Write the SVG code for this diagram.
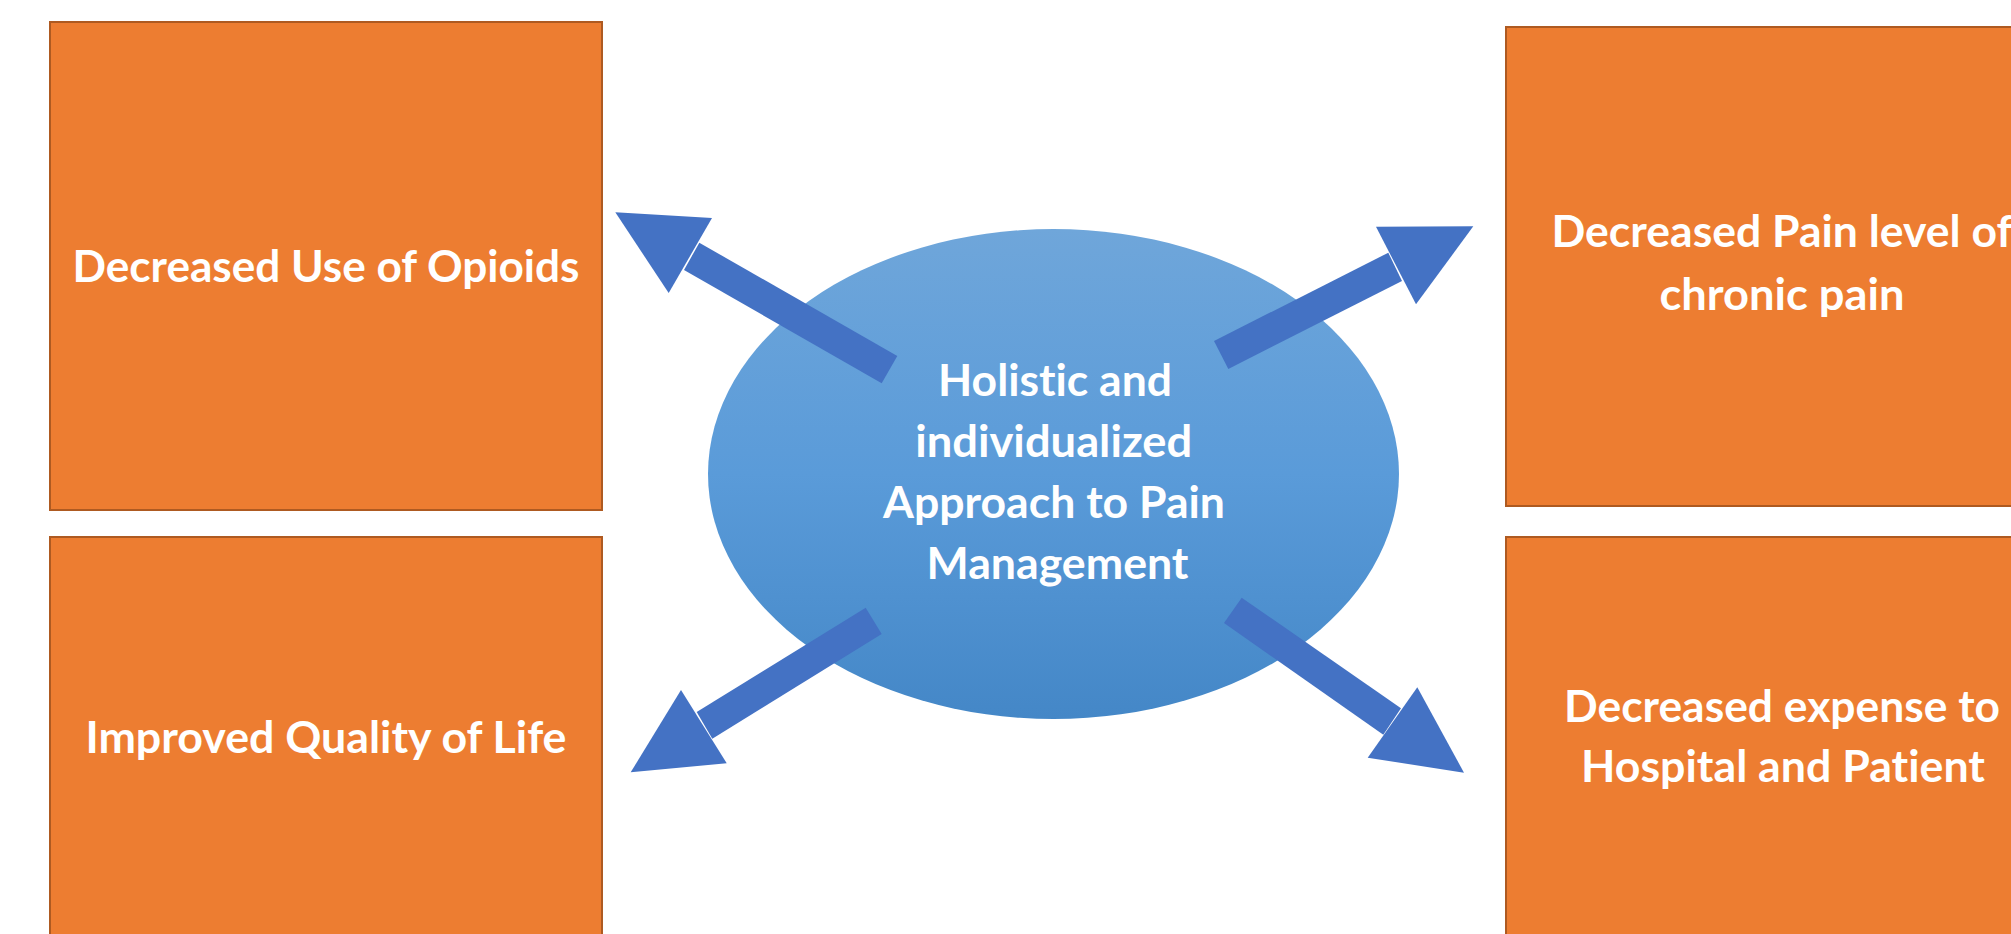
<svg xmlns="http://www.w3.org/2000/svg" width="2011" height="934" viewBox="0 0 2011 934">
  <style>
    .box { fill: #ED7D31; stroke: #AE5A21; stroke-width: 2; }
    .lbl { fill: #FFFFFF; font-family: Lato, "Open Sans", "Liberation Sans", sans-serif; font-weight: 700; font-size: 44px; text-anchor: middle; font-variant-ligatures: none; }
    .arrow { fill: #4472C4; }
  </style>
  <defs>
    <linearGradient id="hubFill" x1="0" y1="0" x2="0" y2="1">
      <stop offset="0" stop-color="#6FA6DA"/>
      <stop offset="0.5" stop-color="#5A9BD9"/>
      <stop offset="1" stop-color="#4487C7"/>
    </linearGradient>
  </defs>

  <rect width="2011" height="934" fill="#FFFFFF"/>

  <!-- outcome boxes -->
  <g id="opioids">
    <rect class="box" x="50" y="22" width="552" height="488"/>
    <text class="lbl" x="326" y="282" textLength="507" lengthAdjust="spacingAndGlyphs">Decreased Use of Opioids</text>
  </g>

  <g id="quality-of-life">
    <rect class="box" x="50" y="537" width="552" height="420"/>
    <text class="lbl" x="326" y="753" textLength="481" lengthAdjust="spacingAndGlyphs">Improved Quality of Life</text>
  </g>

  <g id="pain-level">
    <rect class="box" x="1506" y="27" width="552" height="479"/>
    <text class="lbl" x="1782" y="247" textLength="461" lengthAdjust="spacingAndGlyphs">Decreased Pain level of</text>
    <text class="lbl" x="1782" y="310" textLength="245" lengthAdjust="spacingAndGlyphs">chronic pain</text>
  </g>

  <g id="expense">
    <rect class="box" x="1506" y="537" width="552" height="420"/>
    <text class="lbl" x="1782" y="722" textLength="436" lengthAdjust="spacingAndGlyphs">Decreased expense to</text>
    <text class="lbl" x="1783" y="782" textLength="404" lengthAdjust="spacingAndGlyphs">Hospital and Patient</text>
  </g>

  <!-- central approach -->
  <g id="approach">
    <ellipse cx="1053.5" cy="474" rx="345.5" ry="245" fill="url(#hubFill)"/>
    <text class="lbl" x="1055" y="395.5" textLength="234" lengthAdjust="spacingAndGlyphs">Holistic and</text>
    <text class="lbl" x="1053.7" y="456.7" textLength="277" lengthAdjust="spacingAndGlyphs">individualized</text>
    <text class="lbl" x="1054" y="517.7" textLength="342" lengthAdjust="spacingAndGlyphs">Approach to Pain</text>
    <text class="lbl" x="1057.5" y="579.3" textLength="262" lengthAdjust="spacingAndGlyphs">Management</text>
  </g>

  <!-- connectors: block arrows radiating from the centre -->
  <g id="connectors">
    <g id="to-opioids">
      <polygon class="arrow" points="699.3,242.7 897.3,356 881.7,383.3 684,270"/>
      <polygon class="arrow" points="615.3,212.3 712,218 668.7,293"/>
    </g>
    <g id="to-pain-level">
      <polygon class="arrow" points="1214,341 1388.3,252.7 1402,281 1228.3,369"/>
      <polygon class="arrow" points="1376,226.7 1473.3,226.3 1416,304.3"/>
    </g>
    <g id="to-quality-of-life">
      <polygon class="arrow" points="865.7,607.7 881.7,634 712.3,738.7 696.7,712"/>
      <polygon class="arrow" points="681,690 726.7,763.3 630.7,772.3"/>
    </g>
    <g id="to-expense">
      <polygon class="arrow" points="1241.7,597.7 1224,623 1383.3,734.7 1401,708.3"/>
      <polygon class="arrow" points="1417.3,687.3 1367.7,757.7 1464,772.7"/>
    </g>
  </g>
</svg>
